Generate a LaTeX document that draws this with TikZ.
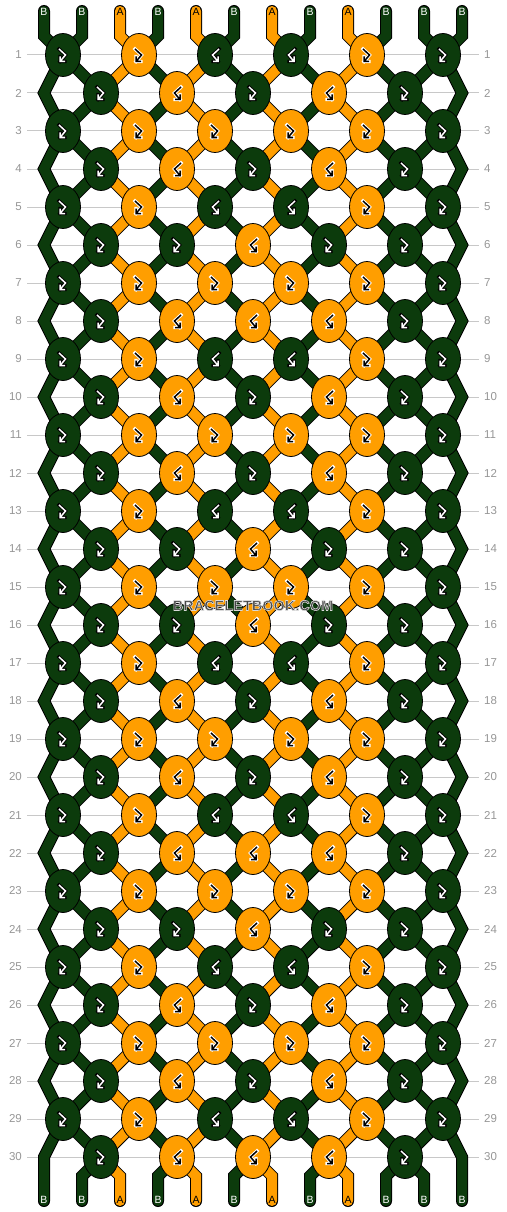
\documentclass[tikz,border=0pt]{standalone}
\usepackage{fontspec}
\setmainfont{Liberation Sans}
\usetikzlibrary{shapes.geometric}
\definecolor{kg}{RGB}{12,59,12}
\definecolor{ko}{RGB}{255,158,0}
\definecolor{gridgray}{RGB}{200,200,200}
\definecolor{numgray}{RGB}{150,150,150}
\definecolor{wmgray}{RGB}{70,70,70}
\tikzset{
  knotnode/.style={ellipse, draw=black, line width=0.8pt, minimum width=35pt, minimum height=43pt, inner sep=0pt},
  strandout/.style={line width=12pt, black, line join=miter, line cap=round},
  strandin/.style={line width=10pt, line join=miter, line cap=round},
  gridline/.style={gridgray, line width=1pt},
  rownumL/.style={numgray, anchor=east, inner sep=0pt, font=\fontsize{11.5}{12}\selectfont},
  rownumR/.style={numgray, anchor=west, inner sep=0pt, font=\fontsize{11.5}{12}\selectfont},
  endlabel/.style={inner sep=0pt, font=\fontsize{10.5}{11}\selectfont},
}
\newcommand\karrow[4]{%
  \begin{scope}[shift={(#1)},xscale=#2]
    \draw[#4,line width=3.4pt,line join=miter,line cap=rect] (-4,-6) -- (2.5,0) -- (-3,6.5) (2,6.5) -- (-3,6.5) -- (-3,1.5);
    \draw[#3,line width=1.5pt,line join=miter] (-4,-6) -- (2.5,0) -- (-3,6.5) (2,6.5) -- (-3,6.5) -- (-3,1.5);
  \end{scope}}
\newcommand\knotgf[1]{\node[knotnode,fill=kg] (N#1) at (#1) {};\karrow{#1}{1}{white}{black}}
\newcommand\knotgb[1]{\node[knotnode,fill=kg] (N#1) at (#1) {};\karrow{#1}{-1}{white}{black}}
\newcommand\knotof[1]{\node[knotnode,fill=ko] (N#1) at (#1) {};\karrow{#1}{1}{black}{white}}
\newcommand\knotob[1]{\node[knotnode,fill=ko] (N#1) at (#1) {};\karrow{#1}{-1}{black}{white}}
\begin{document}
\begin{tikzpicture}[x=1pt,y=-1pt]
\useasboundingbox (0,0) rectangle (506,1212);
% grid lines and row numbers
\foreach \r in {1,...,30}{
  \pgfmathsetmacro\yy{55+38*(\r-1)}
  \draw[gridline] (27,\yy) -- (479,\yy);
  \node[rownumL] (ln\r) at (22,\yy) {\r};
  \node[rownumR] (rn\r) at (484,\yy) {\r};
}
% knot coordinates
\foreach \r in {1,...,30}{
  \pgfmathsetmacro\yy{55+38*(\r-1)}
  \ifodd\r\relax
    \foreach \k in {1,...,6}{\coordinate (K-\r-\k) at ({63+76*(\k-1)},\yy);}
  \else
    \foreach \k in {1,...,5}{\coordinate (K-\r-\k) at ({101+76*(\k-1)},\yy);}
  \fi
}
% string path coordinates
\foreach \i in {1,...,12}{
  \pgfmathsetmacro\px{44+38*(\i-1)}
  \coordinate (T-\i) at (\px,11);
  \coordinate (TB-\i) at (\px,36);
  \coordinate (BB-\i) at (\px,1176);
  \coordinate (B-\i) at (\px,1201);
  \pgfmathtruncatemacro\kodd{int((\i+1)/2)}
  \pgfmathtruncatemacro\keven{int(\i/2)}
  \foreach \r in {1,...,30}{
    \ifodd\r\relax
      \coordinate (S-\i-\r) at (K-\r-\kodd);
    \else
      \ifnum\i=1\relax
        \coordinate (S-\i-\r) at (\px,{55+38*(\r-1)});
      \else\ifnum\i=12\relax
        \coordinate (S-\i-\r) at (\px,{55+38*(\r-1)});
      \else
        \coordinate (S-\i-\r) at (K-\r-\keven);
      \fi\fi
    \fi
  }
}
% strings
\foreach \i in {1,...,12}{
  \draw[strandout] (T-\i) -- (TB-\i) \foreach \r in {1,...,30}{ -- (S-\i-\r)} -- (BB-\i) -- (B-\i);
}
\foreach \i/\c in {1/kg,2/kg,3/ko,4/kg,5/ko,6/kg,7/ko,8/kg,9/ko,10/kg,11/kg,12/kg}{
  \draw[strandin,\c] (T-\i) -- (TB-\i) \foreach \r in {1,...,30}{ -- (S-\i-\r)} -- (BB-\i) -- (B-\i);
}
% end labels
\foreach \i/\tc/\t in {1/white/B,2/white/B,3/black/A,4/white/B,5/black/A,6/white/B,7/black/A,8/white/B,9/black/A,10/white/B,11/white/B,12/white/B}{
  \pgfmathsetmacro\px{44+38*(\i-1)}
  \node[endlabel,text=\tc] (TL-\i) at (\px,12) {\t};
  \node[endlabel,text=\tc] (BL-\i) at (\px,1199.5) {\t};
}
% knots
\foreach \r/\p in {
  1/{gf,of,gb,gb,of,gf}, 2/{gf,ob,gf,ob,gf}, 3/{gf,of,of,of,of,gf}, 4/{gf,ob,gf,ob,gf},
  5/{gf,of,gb,gb,of,gf}, 6/{gf,gf,ob,gf,gf}, 7/{gf,of,of,of,of,gf}, 8/{gf,ob,ob,ob,gf},
  9/{gf,of,gb,gb,of,gf}, 10/{gf,ob,gf,ob,gf}, 11/{gf,of,of,of,of,gf}, 12/{gf,ob,gf,ob,gf},
  13/{gf,of,gb,gb,of,gf}, 14/{gf,gf,ob,gf,gf}, 15/{gf,of,of,of,of,gf}, 16/{gf,gf,ob,gf,gf},
  17/{gf,of,gb,gb,of,gf}, 18/{gf,ob,gf,ob,gf}, 19/{gf,of,of,of,of,gf}, 20/{gf,ob,gf,ob,gf},
  21/{gf,of,gb,gb,of,gf}, 22/{gf,ob,ob,ob,gf}, 23/{gf,of,of,of,of,gf}, 24/{gf,gf,ob,gf,gf},
  25/{gf,of,gb,gb,of,gf}, 26/{gf,ob,gf,ob,gf}, 27/{gf,of,of,of,of,gf}, 28/{gf,ob,gf,ob,gf},
  29/{gf,of,gb,gb,of,gf}, 30/{gf,ob,ob,ob,gf}}{
  \foreach \t [count=\k] in \p {\csname knot\t\endcsname{K-\r-\k}}
}
% watermark
\node[text=wmgray, font=\bfseries\fontsize{14.5}{14}\selectfont, inner sep=0pt] (wm) at (253,605.5) {\special{pdf:literal direct 2 Tr 0.85 0.85 0.85 RG 0.6 w}BRACELETBOOK.COM\special{pdf:literal direct 0 Tr}};
\end{tikzpicture}
\end{document}
